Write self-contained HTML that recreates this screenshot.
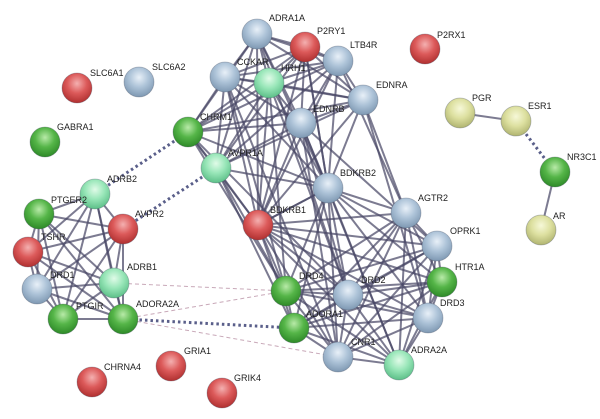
<!DOCTYPE html>
<html><head><meta charset="utf-8"><style>
html,body{margin:0;padding:0;background:#fff;}
svg{display:block;}
text{font-family:"Liberation Sans",Arial,sans-serif;font-size:9px;fill:#222;}
</style></head><body>
<svg id="s" width="600" height="419" viewBox="0 0 600 419" xmlns="http://www.w3.org/2000/svg">
<defs>
<radialGradient id="gb" cx="50%" cy="35%" r="65%"><stop offset="0" stop-color="#e8f0f8"/><stop offset="0.5" stop-color="#adc3d8"/><stop offset="1" stop-color="#7e98b2"/></radialGradient>
<radialGradient id="gr" cx="50%" cy="35%" r="65%"><stop offset="0" stop-color="#f4b0b0"/><stop offset="0.5" stop-color="#dc5a5a"/><stop offset="1" stop-color="#b03030"/></radialGradient>
<radialGradient id="gg" cx="50%" cy="35%" r="65%"><stop offset="0" stop-color="#b8eaa8"/><stop offset="0.5" stop-color="#55b548"/><stop offset="1" stop-color="#2e8a28"/></radialGradient>
<radialGradient id="gl" cx="50%" cy="35%" r="65%"><stop offset="0" stop-color="#e0fbe8"/><stop offset="0.5" stop-color="#98e6b8"/><stop offset="1" stop-color="#5cbf88"/></radialGradient>
<radialGradient id="gy" cx="50%" cy="35%" r="65%"><stop offset="0" stop-color="#f6f8d8"/><stop offset="0.5" stop-color="#dde0a0"/><stop offset="1" stop-color="#b0b470"/></radialGradient>
</defs>
<g id="edges"></g>
<g id="nodes"></g>
<g id="labels">
<text x="269" y="21">ADRA1A</text>
<text x="317" y="34">P2RY1</text>
<text x="350" y="48">LTB4R</text>
<text x="437" y="38">P2RX1</text>
<text x="90" y="76">SLC6A1</text>
<text x="152" y="70">SLC6A2</text>
<text x="237" y="65">CCKAR</text>
<text x="281" y="71">HRH1</text>
<text x="376" y="88">EDNRA</text>
<text x="57" y="130">GABRA1</text>
<text x="200" y="120">CHRM1</text>
<text x="313" y="112">EDNRB</text>
<text x="472" y="101">PGR</text>
<text x="528" y="109">ESR1</text>
<text x="228" y="156">AVPR1A</text>
<text x="340" y="176">BDKRB2</text>
<text x="567" y="160">NR3C1</text>
<text x="107" y="182">ADRB2</text>
<text x="51" y="203">PTGER2</text>
<text x="135" y="217">AVPR2</text>
<text x="418" y="201">AGTR2</text>
<text x="270" y="213">BDKRB1</text>
<text x="553" y="219">AR</text>
<text x="41" y="240">TSHR</text>
<text x="450" y="234">OPRK1</text>
<text x="127" y="270">ADRB1</text>
<text x="50" y="278">DRD1</text>
<text x="299" y="279">DRD4</text>
<text x="455" y="270">HTR1A</text>
<text x="361" y="283">DRD2</text>
<text x="76" y="309">PTGIR</text>
<text x="136" y="307">ADORA2A</text>
<text x="306" y="317">ADORA1</text>
<text x="440" y="306">DRD3</text>
<text x="351" y="345">CNR1</text>
<text x="411" y="353">ADRA2A</text>
<text x="184" y="354">GRIA1</text>
<text x="104" y="370">CHRNA4</text>
<text x="234" y="381">GRIK4</text>
</g>
</svg>
<script>
var N={ADRA1A:[257,34,'b'],P2RY1:[305,47,'r'],LTB4R:[338,61,'b'],P2RX1:[425,49,'r'],SLC6A1:[77,88,'r'],SLC6A2:[139,82,'b'],
CCKAR:[225,77,'b'],HRH1:[269,83,'l'],EDNRA:[363,100,'b'],GABRA1:[45,142,'g'],CHRM1:[188,132,'g'],EDNRB:[301,123,'b'],
PGR:[460,113,'y'],ESR1:[516,121,'y'],AVPR1A:[216,168,'l'],BDKRB2:[328,188,'b'],NR3C1:[555,172,'g'],ADRB2:[95,194,'l'],
PTGER2:[39,214,'g'],AVPR2:[123,229,'r'],AGTR2:[406,213,'b'],BDKRB1:[258,225,'r'],AR:[541,230,'y'],TSHR:[28,252,'r'],
OPRK1:[437,246,'b'],ADRB1:[114,283,'l'],DRD1:[37,289,'b'],DRD4:[286,291,'g'],HTR1A:[442,282,'g'],DRD2:[348,295,'b'],
PTGIR:[63,319,'g'],ADORA2A:[123,319,'g'],ADORA1:[294,328,'g'],DRD3:[428,318,'b'],CNR1:[338,357,'b'],ADRA2A:[399,365,'l'],
GRIA1:[171,366,'r'],CHRNA4:[92,382,'r'],GRIK4:[222,393,'r']};
var E=[];
function full(a){for(var i=0;i<a.length;i++)for(var j=i+1;j<a.length;j++)E.push([a[i],a[j]]);}
full(['ADRA1A','P2RY1','LTB4R','CCKAR','HRH1','EDNRA','CHRM1','EDNRB','AVPR1A','BDKRB2','BDKRB1']);
full(['AGTR2','OPRK1','HTR1A','DRD4','DRD2','ADORA1','DRD3','CNR1','ADRA2A','BDKRB1','BDKRB2']);
full(['ADRB2','PTGER2','AVPR2','TSHR','ADRB1','DRD1','PTGIR','ADORA2A']);
[['EDNRA','AGTR2'],['EDNRB','DRD2'],['EDNRB','ADRA2A'],['HRH1','DRD4'],['CHRM1','DRD2'],['AVPR1A','ADORA1'],['CCKAR','CNR1'],
['ADRA1A','DRD2'],['EDNRA','DRD3'],['HRH1','DRD2'],['CHRM1','DRD4'],['EDNRB','OPRK1'],['LTB4R','AGTR2'],['P2RY1','BDKRB2'],
['AVPR1A','DRD4'],['CCKAR','DRD4'],['EDNRB','CNR1'],['PGR','ESR1'],['NR3C1','AR']].forEach(function(e){E.push(e)});
var g=document.getElementById('edges'),s='';
function ln(a,b,st){var p=N[a],q=N[b];s+='<line x1="'+p[0]+'" y1="'+p[1]+'" x2="'+q[0]+'" y2="'+q[1]+'" '+st+'/>';}
E.forEach(function(e){ln(e[0],e[1],'stroke="#4a4866" stroke-opacity="0.72" stroke-width="2"');});
[['CHRM1','ADRB2'],['AVPR1A','AVPR2'],['ADORA2A','ADORA1'],['ESR1','NR3C1']].forEach(function(e){ln(e[0],e[1],'stroke="#5a5f8a" stroke-width="3" stroke-dasharray="2.5,3"');});
[['ADRB1','DRD4'],['ADORA2A','DRD4'],['ADORA2A','CNR1']].forEach(function(e){ln(e[0],e[1],'stroke="#c8a8b8" stroke-width="1" stroke-dasharray="4,3"');});
g.innerHTML=s;
var h='';for(var k in N){var n=N[k];h+='<circle cx="'+n[0]+'" cy="'+n[1]+'" r="15" fill="url(#g'+n[2]+')" stroke="rgba(60,70,90,0.35)" stroke-width="0.8"/>';}
document.getElementById('nodes').innerHTML=h;
</script>
</body></html>
